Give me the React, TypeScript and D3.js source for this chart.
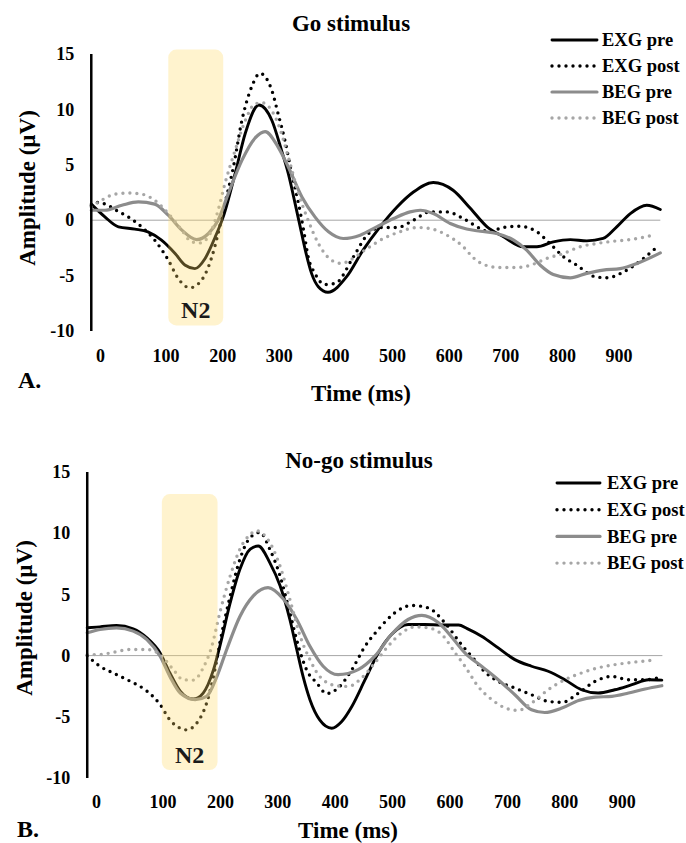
import React from 'react';
import { scaleLinear, line, curveMonotoneX } from 'd3';

type Pt = [number, number]; // [time ms, amplitude µV]

const SERIES_NAMES = ['EXG pre', 'EXG post', 'BEG pre', 'BEG post'];
const X_TICKS = [0, 100, 200, 300, 400, 500, 600, 700, 800, 900];
const Y_TICKS = [-10, -5, 0, 5, 10, 15];
const GO_TIME = [-32, 973];
const NOGO_TIME = [-32, 970];

// Go stimulus
const goExgPre: Pt[] = [
  [-32, 1.45], [-8, 0.3], [16, -0.6], [45, -0.8], [68, -1.05], [92, -1.8], [116, -3.0],
  [134, -4.07], [151, -4.37], [169, -3.45], [187, -1.5], [201, 0.3], [222, 4.2], [240, 7.85],
  [264, 10.4], [287, 9.0], [304, 6.3], [316, 4.2], [328, 1.5], [337, -0.6], [346, -2.7],
  [357, -4.8], [369, -6.0], [386, -6.5], [419, -5.1], [448, -2.7], [478, -0.6], [508, 1.2],
  [537, 2.55], [572, 3.4], [607, 2.7], [637, 1.1], [667, -0.6], [696, -1.5], [731, -2.4],
  [755, -2.4], [784, -1.96], [814, -1.75], [843, -1.87], [872, -1.65], [896, -0.6], [920, 0.6],
  [949, 1.35], [973, 0.97],
];
const goExgPost: Pt[] = [
  [-32, 1.3], [-20, 1.6], [-5, 1.4], [12, 0.9], [33, 0.3], [57, -0.6], [80, -1.8], [104, -3.6],
  [122, -5.3], [142, -6.1], [163, -5.4], [181, -3.3], [192, -1.2], [204, 1.5], [219, 4.8],
  [234, 9.0], [251, 12.0], [266, 13.25], [287, 11.7], [298, 9.6], [310, 7.2], [322, 4.2],
  [334, 1.5], [343, -0.9], [351, -3.3], [363, -4.8], [380, -5.8], [399, -5.7], [431, -3.3],
  [455, -1.35], [478, -0.66], [508, -0.66], [537, 0], [566, 0.75], [596, 0.75], [625, 0.15],
  [655, -0.75], [670, -1.05], [696, -0.65], [725, -0.55], [755, -1.05], [778, -2.1],
  [802, -3.3], [826, -4.07], [855, -5.06], [878, -5.2], [908, -4.67], [943, -3.46], [964, -2.56],
];
const goBegPre: Pt[] = [
  [-32, 0.9], [-8, 0.9], [22, 1.35], [51, 1.65], [80, 1.45], [104, 0.45], [128, -0.9],
  [154, -1.75], [175, -1.2], [192, 0], [210, 2.4], [234, 5.4], [257, 7.4], [275, 8.0],
  [298, 6.6], [316, 4.8], [340, 2.1], [363, 0.3], [387, -1.05], [413, -1.65], [443, -1.35],
  [472, -0.6], [502, 0.15], [531, 0.75], [549, 0.9], [572, 0.6], [602, -0.3], [631, -0.8],
  [655, -1.0], [684, -1.2], [714, -1.8], [737, -2.7], [761, -4.07], [784, -4.9], [814, -5.2],
  [843, -4.8], [872, -4.5], [902, -4.37], [932, -3.9], [973, -2.95],
];
const goBegPost: Pt[] = [
  [-32, 1.2], [-14, 1.8], [10, 2.35], [33, 2.45], [57, 2.35], [80, 1.8], [104, 0.6],
  [128, -0.9], [145, -1.95], [160, -2.05], [178, -1.2], [192, 0.9], [204, 3.3], [222, 6.3],
  [240, 9.0], [257, 10.5], [270, 10.6], [290, 9.6], [298, 8.7], [316, 5.7], [334, 2.4],
  [351, 0], [369, -2.1], [392, -3.6], [410, -3.9], [425, -3.6], [455, -2.56], [484, -1.65],
  [513, -1.05], [543, -0.66], [566, -0.75], [596, -1.35], [625, -2.4], [643, -3.4],
  [661, -4.0], [690, -4.27], [720, -4.27], [743, -4.07], [772, -3.46], [802, -3.0],
  [831, -2.4], [861, -2.1], [890, -1.9], [920, -1.75], [961, -1.35],
];

// No-go stimulus
const nogoExgPre: Pt[] = [
  [-32, 2.27], [-10, 2.35], [19, 2.46], [48, 2.19], [72, 1.45], [95, 0.22], [112, -1.42],
  [130, -2.9], [153, -3.55], [170, -3.06], [188, -1.15], [199, 0.76], [217, 4.3], [234, 7.05],
  [252, 8.7], [266, 8.96], [286, 7.6], [304, 5.7], [321, 2.95], [333, 0.5], [344, -1.7],
  [356, -3.6], [373, -5.25], [394, -5.93], [411, -5.4], [429, -4.15], [452, -1.97], [475, 0.22],
  [498, 1.72], [527, 2.54], [556, 2.54], [586, 2.5], [615, 2.5], [630, 2.2], [655, 1.58],
  [684, 0.63], [713, -0.33], [742, -0.87], [771, -1.28], [800, -1.97], [829, -2.79],
  [858, -3.06], [887, -2.79], [917, -2.38], [946, -1.97], [969, -2.0],
];
const nogoExgPost: Pt[] = [
  [-32, 0], [-10, -0.87], [13, -1.42], [43, -2.1], [72, -2.9], [95, -4.0], [112, -5.25],
  [130, -5.93], [141, -6.07], [159, -5.5], [176, -3.88], [188, -1.7], [199, 1.04], [217, 4.86],
  [234, 7.87], [252, 9.65], [269, 10.06], [286, 8.7], [304, 6.5], [321, 3.5], [336, 0.76],
  [350, -1.15], [368, -2.24], [385, -3.1], [405, -2.65], [429, -1.15], [452, 0.76], [475, 2.13],
  [504, 3.5], [533, 4.1], [562, 3.9], [591, 2.68], [620, 0.9], [644, -0.4], [660, -1.3],
  [684, -2.1], [713, -2.65], [742, -3.2], [771, -3.74], [795, -3.82], [824, -3.06], [853, -2.1],
  [882, -1.7], [911, -1.97], [940, -1.97], [969, -1.75],
];
const nogoBegPre: Pt[] = [
  [-32, 1.86], [-10, 2.13], [19, 2.27], [48, 2.0], [72, 1.31], [95, -0.05], [112, -1.7],
  [130, -3.06], [156, -3.6], [176, -3.33], [194, -1.7], [211, 0.5], [234, 3.2], [257, 4.86],
  [283, 5.55], [310, 4.6], [333, 2.95], [356, 0.76], [379, -0.87], [405, -1.56], [440, -1.15],
  [469, -0.05], [498, 1.72], [527, 2.95], [551, 3.28], [580, 2.68], [609, 1.17], [626, 0.22],
  [655, -0.87], [684, -1.97], [713, -3.2], [742, -4.43], [765, -4.65], [795, -4.29],
  [824, -3.66], [853, -3.39], [882, -3.33], [911, -3.06], [940, -2.73], [969, -2.46],
];
const nogoBegPost: Pt[] = [
  [-32, 0.08], [-10, 0.08], [13, 0.27], [43, 0.5], [72, 0.5], [95, 0.08], [118, -1.15],
  [135, -1.97], [153, -2.0], [170, -1.0], [185, 0.76], [199, 3.5], [217, 6.5], [234, 8.7],
  [252, 9.9], [262, 10.2], [281, 9.6], [304, 7.3], [321, 4.6], [339, 1.58], [356, -0.33],
  [373, -1.7], [402, -2.46], [423, -2.52], [446, -1.83], [469, -0.6], [492, 0.76], [516, 1.86],
  [539, 2.35], [562, 2.27], [586, 1.72], [609, 0.22], [626, -0.87], [649, -2.52], [673, -3.6],
  [697, -4.29], [719, -4.48], [742, -3.88], [771, -2.79], [800, -1.97], [829, -1.42],
  [858, -1.0], [887, -0.74], [917, -0.55], [954, -0.38],
];

// N2 window: [t0, t1, v0, v1]
const GO_N2 = [104, 201, -9.5, 15.4];
const NOGO_N2 = [98, 195, -9.35, 13.2];

const FONT = '"Liberation Serif", "Times New Roman", serif';

const SERIES_STYLE = [
  { stroke: '#000000', width: 2.9, dash: undefined },
  { stroke: '#000000', width: 3.4, dash: '0 7' },
  { stroke: '#8c8c8c', width: 3.2, dash: undefined },
  { stroke: '#a6a6a6', width: 3.4, dash: '0 7' },
];

const PANELS = [
  {
    key: 'go',
    title: 'Go stimulus',
    letter: 'A.',
    series: [goExgPre, goExgPost, goBegPre, goBegPost],
    time: GO_TIME,
    n2: GO_N2,
    xRange: [109.4, 619],
    yRange: [331, 54],
    titlePos: [351, 31],
    legend: { x0: 552, x1: 597, tx: 602, y0: 40, dy: 26 },
    letterPos: [18, 388],
    xTitlePos: [361, 401],
    yTitlePos: [27, 188],
    tickY: 362,
    n2LabelY: 318,
  },
  {
    key: 'nogo',
    title: 'No-go stimulus',
    letter: 'B.',
    series: [nogoExgPre, nogoExgPost, nogoBegPre, nogoBegPost],
    time: NOGO_TIME,
    n2: NOGO_N2,
    xRange: [105.6, 622.2],
    yRange: [778, 472],
    titlePos: [359, 468],
    legend: { x0: 557, x1: 600, tx: 607, y0: 483, dy: 26.7 },
    letterPos: [17, 837],
    xTitlePos: [348, 838],
    yTitlePos: [24, 618],
    tickY: 808,
    n2LabelY: 763,
  },
];

const Panel = ({ p }) => {
  const x = scaleLinear().domain([0, 900]).range(p.xRange);
  const y = scaleLinear().domain([-10, 15]).range(p.yRange);
  const path = line<Pt>()
    .x((d) => x(d[0]))
    .y((d) => y(d[1]))
    .curve(curveMonotoneX);
  const axisX = x(p.time[0]);
  const [t0, t1, v0, v1] = p.n2;

  return (
    <g>
      <text x={p.titlePos[0]} y={p.titlePos[1]} textAnchor="middle" fontSize={23} fontWeight="bold">
        {p.title}
      </text>

      {/* zero line */}
      <line x1={axisX} x2={x(p.time[1])} y1={y(0)} y2={y(0)} stroke="#a6a6a6" strokeWidth={1} />

      {p.series.map((s, i) => (
        <path
          key={i}
          d={path(s) || ''}
          fill="none"
          stroke={SERIES_STYLE[i].stroke}
          strokeWidth={SERIES_STYLE[i].width}
          strokeDasharray={SERIES_STYLE[i].dash}
          strokeLinecap="round"
          strokeLinejoin="round"
        />
      ))}

      {/* N2 window, tinted over the curves */}
      <rect
        x={x(t0)}
        y={y(v1)}
        width={x(t1) - x(t0)}
        height={y(v0) - y(v1)}
        rx={8}
        fill="#ffd966"
        fillOpacity={0.32}
      />
      <text x={(x(t0) + x(t1)) / 2} y={p.n2LabelY} textAnchor="middle" fontSize={24} fontWeight="bold" fill="#1a1a1a">
        N2
      </text>

      {/* y axis */}
      <line x1={axisX} x2={axisX} y1={y(15)} y2={y(-10)} stroke="#000" strokeWidth={2.5} />
      {Y_TICKS.map((v) => (
        <text key={v} x={axisX - 17} y={y(v)} dy="0.34em" textAnchor="end" fontSize={18} fontWeight="bold">
          {v}
        </text>
      ))}
      {X_TICKS.map((t) => (
        // the "0" label sits a little left of its category in the original
        <text key={t} x={x(t) - (t === 0 ? 9 : 0)} y={p.tickY} textAnchor="middle" fontSize={18} fontWeight="bold">
          {t}
        </text>
      ))}

      <text
        transform={`translate(${p.yTitlePos[0]},${p.yTitlePos[1]}) rotate(-90)`}
        dy="0.34em"
        textAnchor="middle"
        fontSize={23}
        fontWeight="bold"
      >
        Amplitude (µV)
      </text>
      <text x={p.xTitlePos[0]} y={p.xTitlePos[1]} textAnchor="middle" fontSize={23} fontWeight="bold">
        Time (ms)
      </text>
      <text x={p.letterPos[0]} y={p.letterPos[1]} fontSize={24} fontWeight="bold">
        {p.letter}
      </text>

      {SERIES_NAMES.map((name, i) => {
        const ly = p.legend.y0 + i * p.legend.dy;
        return (
          <g key={name}>
            <line
              x1={p.legend.x0}
              x2={p.legend.x1}
              y1={ly}
              y2={ly}
              stroke={SERIES_STYLE[i].stroke}
              strokeWidth={SERIES_STYLE[i].width}
              strokeDasharray={SERIES_STYLE[i].dash}
              strokeLinecap="round"
            />
            <text x={p.legend.tx} y={ly} dy="0.34em" fontSize={18.5} fontWeight="bold">
              {name}
            </text>
          </g>
        );
      })}
    </g>
  );
};

export default function App() {
  return (
    <svg
      width={686}
      height={843}
      style={{ position: 'absolute', left: 0, top: 0, background: '#fff' }}
      fontFamily={FONT}
    >
      <rect width={686} height={843} fill="#fff" />
      {PANELS.map((p) => (
        <Panel key={p.key} p={p} />
      ))}
    </svg>
  );
}
